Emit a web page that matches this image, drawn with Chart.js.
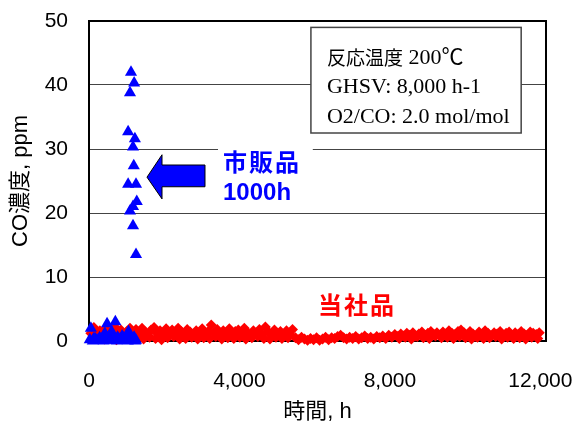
<!DOCTYPE html>
<html>
<head>
<meta charset="utf-8">
<script src="https://cdn.jsdelivr.net/npm/chart.js@4"></script>
<style>
html,body{margin:0;padding:0;background:#fff;}
#wrap{width:579px;height:425px;position:relative;}
</style>
</head>
<body>
<div id="wrap"><canvas id="c" width="579" height="425"></canvas></div>
<script>
// ---- data ----
const commercialHours = [50,120,200,280,360,420,480,540,600,660,700,760,820,880,940,1000,1050,1100,1150,1200,1250,
  20,100,160,240,320,390,450,510,570,630,730,790,850,910,970,1030,1080,1130,1180,1230,
  1117,1200,1090,1040,1220,1170,1190,1040,1250,1270,1090,1170,1170,1250];
const commercialPpm = [2.0,0.3,0.1,0.5,0.2,1.2,2.7,0.4,1.5,0.1,3.0,0.6,0.2,0.8,0.3,0.1,1.5,0.4,0.2,0.6,0.1,
  0.2,0.0,0.4,0.1,0.3,0.0,0.5,0.1,0.2,0.4,0.0,0.3,0.1,0.5,0.2,0.0,0.3,0.1,0.4,0.0,
  42.0,40.3,38.8,32.7,31.6,30.3,27.4,24.5,24.5,21.8,20.3,21.0,18.0,13.5];

const ourHours = [50,130,210,290,370,450,530,610,690,770,850,930,1010,1090,1170,
  1250,1330,1410,1490,1570,1650,1730,1810,1890,1970,2050,2130,2210,2290,2370,2450,2530,2610,2690,2770,2850,2930,3010,3090,3170,3250,3330,3410,3490,3570,3650,3730,3810,3890,3970,4050,4130,4210,4290,4370,4450,4530,4610,4690,4770,4850,4930,5010,5090,5170,5250,5330,5410,
  5490,5570,5650,5730,5810,5890,5970,6050,6130,
  6210,6290,6370,6450,6530,6610,6690,6770,6850,6930,7010,7090,7170,7250,7330,7410,7490,7570,7650,7730,7810,7890,7970,8050,8130,
  8210,8290,8370,8450,8530,8610,8690,8770,8850,8930,9010,9090,9170,9250,9330,9410,9490,9570,9650,9730,9810,9890,
  9970,10050,10130,10210,10290,10370,10450,10530,10610,10690,10770,10850,10930,11010,11090,11170,11250,11330,11410,11490,11570,11650,11730,11810,11890,11970];
const ourPpm = [1.2,2.1,0.9,1.6,1.0,1.9,0.7,1.4,2.2,1.1,1.7,0.8,1.5,2.0,1.3,
  1.8,1.1,2.0,1.4,0.9,1.7,2.1,1.2,1.6,0.8,1.9,1.3,1.7,1.0,2.0,1.5,1.1,1.8,1.4,0.9,1.6,1.2,1.9,1.0,1.5,2.5,1.3,1.8,1.0,1.6,1.2,1.9,0.9,1.5,1.7,1.1,2.0,1.3,0.8,1.6,1.2,1.8,1.0,2.2,1.4,0.9,1.7,1.2,1.5,0.8,1.6,1.1,1.8,
  0.5,0.2,0.6,0.3,0.1,0.4,0.2,0.5,0.1,
  0.3,0.6,0.2,0.5,0.4,0.7,0.9,0.5,0.3,0.6,0.4,0.7,0.3,0.5,0.8,0.4,0.6,0.3,0.7,0.5,0.8,0.4,0.9,0.6,1.0,
  0.7,1.1,0.8,1.2,0.9,1.3,0.8,1.1,1.4,0.9,1.2,1.5,1.0,1.3,0.9,1.4,1.1,1.6,1.2,1.0,1.5,1.7,
  1.3,0.9,1.5,1.1,0.7,1.4,1.0,1.6,1.2,0.8,1.3,1.1,1.5,0.9,1.2,1.4,0.8,1.3,1.0,1.5,1.1,0.9,1.4,1.2,1.0,1.3];
// second (lower) run of the same sample
const ourHoursB = [90,250,410,570,730,890,1050,
  1290,1450,1610,1770,1930,2090,2250,2410,2570,2730,2890,3050,3210,3370,3530,3690,3850,4010,4170,4330,4490,4650,4810,4970,5130,5290,
  8250,8410,8570,8730,8890,9050,9210,9370,9530,9690,9850,10010,10170,10330,10490,10650,10810,10970,11130,11290,11450,11610,11770,11930];
const ourPpmB = [0.4,0.6,0.3,0.5,0.2,0.6,0.4,
  0.5,0.3,0.6,0.4,0.2,0.5,0.7,0.3,0.4,0.6,0.3,0.5,0.4,0.7,0.3,0.5,0.4,0.6,0.3,0.5,0.7,0.4,0.3,0.6,0.4,0.5,
  0.4,0.6,0.3,0.7,0.5,0.4,0.8,0.5,0.6,0.4,0.7,0.5,0.3,0.6,0.4,0.5,0.7,0.3,0.6,0.4,0.5,0.3,0.6,0.4];

const xTickValues = [0,4000,8000,12000];
const seriesNames = ['市販品','当社品'];
const conditionLines = ['反応温度', ' 200℃', 'GHSV: 8,000 h-1', 'O2/CO: 2.0 mol/mol'];
const yTitle = 'CO濃度, ppm';
const xTitle = '時間, h';

function pts(xs, ys){ return xs.map((x,i)=>({x:x,y:ys[i]})); }

const SANS = '"Liberation Sans","Noto Sans CJK JP",sans-serif';
const SERIF = '"Liberation Serif","Noto Sans CJK JP",serif';

const decor = {
  id:'decor',
  beforeDatasetsDraw(chart){
    const {ctx, chartArea:a} = chart;
    ctx.save();
    ctx.strokeStyle = '#000';
    ctx.lineWidth = 2;
    ctx.strokeRect(a.left, a.top, a.right-a.left, a.bottom-a.top);
    const xs = chart.scales.x, ys = chart.scales.y;
    const X = v=>xs.getPixelForValue(v), Y = v=>ys.getPixelForValue(v);
    // conditions box
    const bx1 = X(5900), bx2 = X(11490), by1 = Y(49.0), by2 = Y(32.5);
    ctx.fillStyle = '#fff';
    ctx.fillRect(bx1, by1, bx2-bx1, by2-by1);
    ctx.strokeStyle = '#444';
    ctx.lineWidth = 1.5;
    ctx.strokeRect(bx1, by1, bx2-bx1, by2-by1);
    ctx.fillStyle = '#000';
    ctx.textBaseline = 'middle';
    ctx.textAlign = 'left';
    const tx = bx1 + 16;
    ctx.font = '19px "Noto Sans CJK JP",sans-serif';
    ctx.fillText(conditionLines[0], tx, by1 + 30);
    const w0 = ctx.measureText(conditionLines[0]).width;
    ctx.font = '22px ' + SERIF;
    ctx.fillText(conditionLines[1], tx + w0, by1 + 31);
    ctx.fillText(conditionLines[2], tx, by1 + 60);
    ctx.fillText(conditionLines[3], tx, by1 + 90);
    // white backing behind label
    ctx.fillStyle = '#fff';
    ctx.fillRect(X(3430), Y(30.6), X(5950)-X(3430), Y(21.5)-Y(30.6));
    // arrow
    ctx.beginPath();
    ctx.moveTo(X(1542), Y(25.6));
    ctx.lineTo(X(1941), Y(29.1));
    ctx.lineTo(X(1941), Y(27.5));
    ctx.lineTo(X(3084), Y(27.5));
    ctx.lineTo(X(3084), Y(24.1));
    ctx.lineTo(X(1941), Y(24.1));
    ctx.lineTo(X(1941), Y(22.2));
    ctx.closePath();
    ctx.fillStyle = '#0000ff';
    ctx.fill();
    ctx.strokeStyle = '#000';
    ctx.lineWidth = 1;
    ctx.stroke();
    // labels
    ctx.fillStyle = '#0000ff';
    ctx.font = 'bold 24px ' + SANS;
    ctx.letterSpacing = '2px';
    ctx.fillText(seriesNames[0], X(3563), Y(27.6));
    ctx.letterSpacing = '0px';
    ctx.fillText('1000h', X(3563), Y(23.1));
    ctx.fillStyle = '#ff0000';
    ctx.letterSpacing = '2px';
    ctx.fillText(seriesNames[1], X(6089), Y(5.2));
    ctx.restore();
  }
};

new Chart(document.getElementById('c'), {
  type:'scatter',
  data:{
    datasets:[
      {label:seriesNames[0], data:pts(commercialHours, commercialPpm), pointStyle:'triangle', pointRadius:7,
       backgroundColor:'#0000ff', borderColor:'#0000ff', borderWidth:0, clip:false},
      {label:seriesNames[1], data:pts(ourHours, ourPpm).concat(pts(ourHoursB, ourPpmB)), pointStyle:'rectRot', pointRadius:5.5,
       backgroundColor:'#ff0000', borderColor:'#ff0000', borderWidth:0, clip:false}
    ]
  },
  plugins:[decor],
  options:{
    responsive:false, animation:false, events:[],
    layout:{padding:{left:0, top:21, right:33, bottom:0}},
    plugins:{legend:{display:false}, tooltip:{enabled:false}},
    scales:{
      x:{
        type:'linear', min:0, max:12150,
        afterBuildTicks(s){ s.ticks = xTickValues.map(v=>({value:v})); },
        afterFit(s){ s.height = 84; s.paddingLeft = 0; s.paddingRight = 0; s.paddingTop = 0; s.paddingBottom = 0; },
        grid:{display:false, drawTicks:false},
        border:{display:false},
        ticks:{padding:28, color:'#000', font:{family:SANS, size:21}, maxRotation:0,
          callback:v=>v.toLocaleString('en-US')},
        title:{display:true, text:xTitle, color:'#000', font:{family:SANS, size:22}, padding:{top:0,bottom:0}}
      },
      y:{
        min:0, max:50,
        ticks:{stepSize:10, padding:21, color:'#000', font:{family:SANS, size:21}},
        afterFit(s){ s.width = 89; s.paddingTop = 0; s.paddingBottom = 0; s.paddingLeft = 0; s.paddingRight = 0; },
        grid:{color:'#444', lineWidth:1, drawTicks:false},
        border:{display:false},
        title:{display:true, text:yTitle, color:'#000', font:{family:SANS, size:22}, padding:{top:8,bottom:0}}
      }
    }
  }
});
</script>
</body>
</html>
